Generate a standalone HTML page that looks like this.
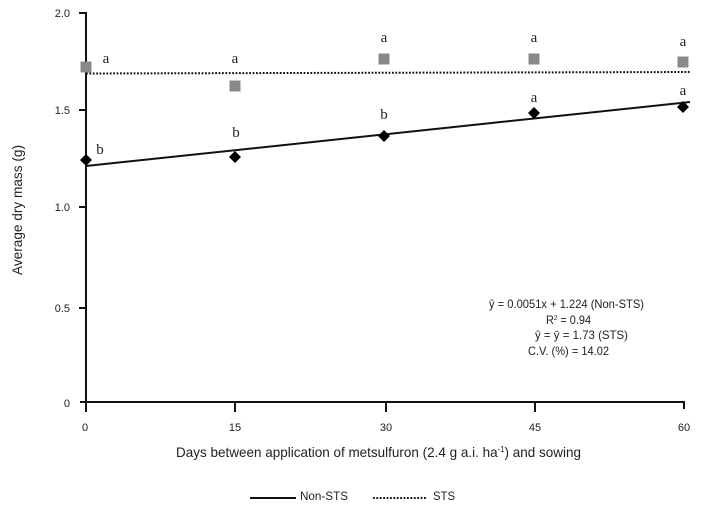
<!DOCTYPE html>
<html><head><meta charset="utf-8"><style>
html,body{margin:0;padding:0;background:#fff;}
svg{display:block;}
</style></head><body>
<svg width="713" height="515" viewBox="0 0 713 515" xmlns="http://www.w3.org/2000/svg">
<rect width="713" height="515" fill="#fff"/>
<!-- axes -->
<g stroke="#111" stroke-width="2" fill="none">
<line x1="86" y1="12" x2="86" y2="403"/>
<line x1="80" y1="402" x2="685" y2="402"/>
<line x1="79" y1="13" x2="86" y2="13"/>
<line x1="79" y1="110" x2="86" y2="110"/>
<line x1="79" y1="207" x2="86" y2="207"/>
<line x1="79" y1="308" x2="86" y2="308"/>
<line x1="86" y1="402" x2="86" y2="412"/>
<line x1="235" y1="402" x2="235" y2="412"/>
<line x1="386" y1="402" x2="386" y2="412"/>
<line x1="535" y1="402" x2="535" y2="412"/>
<line x1="684" y1="402" x2="684" y2="409"/>
</g>
<g font-family="Liberation Sans, sans-serif" font-size="11" fill="#222">
<text x="70" y="17" text-anchor="end">2.0</text>
<text x="70" y="114" text-anchor="end">1.5</text>
<text x="70" y="211" text-anchor="end">1.0</text>
<text x="70" y="312" text-anchor="end">0.5</text>
<text x="70" y="407" text-anchor="end">0</text>
<text x="85" y="431" text-anchor="middle">0</text>
<text x="235" y="431" text-anchor="middle">15</text>
<text x="386" y="431" text-anchor="middle">30</text>
<text x="535" y="431" text-anchor="middle">45</text>
<text x="684" y="431" text-anchor="middle">60</text>
</g>
<!-- axis titles -->
<text x="176" y="457" font-family="Liberation Sans, sans-serif" font-size="14" fill="#222" textLength="405" lengthAdjust="spacingAndGlyphs">Days between application of metsulfuron (2.4 g a.i. ha<tspan font-size="8" dy="-5">-1</tspan><tspan dy="5">) and sowing</tspan></text>
<text transform="translate(22,275) rotate(-90)" x="0" y="0" font-family="Liberation Sans, sans-serif" font-size="14" fill="#222" textLength="130" lengthAdjust="spacingAndGlyphs">Average dry mass (g)</text>
<!-- regression lines -->
<line x1="86" y1="73.5" x2="690" y2="72" stroke="#111" stroke-width="2" stroke-dasharray="1.8 1.6"/>
<line x1="86" y1="166" x2="690" y2="102" stroke="#111" stroke-width="2"/>
<!-- STS squares -->
<g fill="#888">
<rect x="80.5" y="61.5" width="11" height="11"/>
<rect x="229.5" y="80.5" width="11" height="11"/>
<rect x="378.5" y="53.5" width="11" height="11"/>
<rect x="528.5" y="53.5" width="11" height="11"/>
<rect x="677.5" y="56.5" width="11" height="11"/>
</g>
<!-- Non-STS diamonds -->
<g fill="#000">
<polygon points="86,154 92,160 86,166 80,160"/>
<polygon points="235,151 241,157 235,163 229,157"/>
<polygon points="384,130 390,136 384,142 378,136"/>
<polygon points="534,107 540,113 534,119 528,113"/>
<polygon points="683,101 689,107 683,113 677,107"/>
</g>
<!-- letters -->
<g font-family="Liberation Serif, serif" font-size="15" fill="#222" text-anchor="middle">
<text x="106" y="63">a</text>
<text x="100" y="154">b</text>
<text x="235" y="63">a</text>
<text x="236" y="137">b</text>
<text x="384" y="42">a</text>
<text x="384" y="119">b</text>
<text x="534" y="42">a</text>
<text x="534" y="102">a</text>
<text x="683" y="46">a</text>
<text x="683" y="95">a</text>
</g>
<!-- equations -->
<g font-family="Liberation Sans, sans-serif" font-size="12" fill="#222">
<text x="489" y="308" textLength="155" lengthAdjust="spacingAndGlyphs">ŷ = 0.0051x + 1.224 (Non-STS)</text>
<text x="546" y="324" textLength="45" lengthAdjust="spacingAndGlyphs">R<tspan font-size="7" dy="-4">2</tspan><tspan dy="4"> = 0.94</tspan></text>
<text x="535" y="339" textLength="93" lengthAdjust="spacingAndGlyphs">ŷ = ȳ = 1.73 (STS)</text>
<text x="528" y="355" textLength="81" lengthAdjust="spacingAndGlyphs">C.V. (%) = 14.02</text>
</g>
<!-- legend -->
<line x1="250" y1="498" x2="296" y2="498" stroke="#111" stroke-width="2"/>
<text x="300" y="500" font-family="Liberation Sans, sans-serif" font-size="12" fill="#222" textLength="48" lengthAdjust="spacingAndGlyphs">Non-STS</text>
<line x1="373" y1="498" x2="426" y2="498" stroke="#111" stroke-width="2" stroke-dasharray="1.8 1.6"/>
<text x="433" y="500" font-family="Liberation Sans, sans-serif" font-size="12" fill="#222" textLength="22" lengthAdjust="spacingAndGlyphs">STS</text>
</svg>
</body></html>
